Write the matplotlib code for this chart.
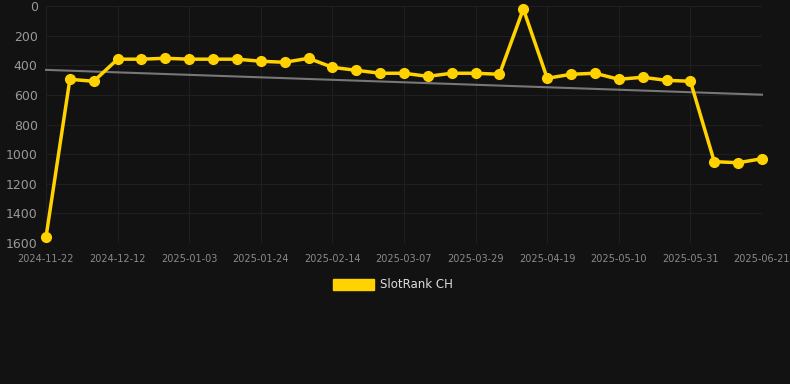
import numpy as np
import matplotlib
matplotlib.use("Agg")
import matplotlib.pyplot as plt
from matplotlib.patches import Patch

dates = ["2024-11-22", "2024-11-29", "2024-12-05", "2024-12-12", "2024-12-19", "2024-12-26",
         "2025-01-03", "2025-01-10", "2025-01-17", "2025-01-24", "2025-01-31", "2025-02-07",
         "2025-02-14", "2025-02-21", "2025-02-28", "2025-03-07", "2025-03-14", "2025-03-21",
         "2025-03-29", "2025-04-05", "2025-04-12", "2025-04-19", "2025-04-26", "2025-05-03",
         "2025-05-10", "2025-05-17", "2025-05-24", "2025-05-31", "2025-06-07", "2025-06-14",
         "2025-06-21"]
rank = [1560, 495, 508, 359, 359, 353, 359, 359, 359, 373, 380, 353, 414, 434, 454, 454,
        475, 454, 454, 461, 20, 488, 461, 454, 495, 481, 502, 508, 1051, 1058, 1031]
series_name = "SlotRank CH"
yticks = [0, 200, 400, 600, 800, 1000, 1200, 1400, 1600]

bg = "#121212"
gold = "#FFD200"

fig = plt.figure(figsize=(7.9, 3.84), dpi=100, facecolor=bg)
ax = fig.add_axes([46/790, 1-243/384, (762-46)/790, (243-6)/384], facecolor=bg)

x = np.arange(len(rank))
coef = np.polyfit(x, rank, 1)
ax.plot(x, np.polyval(coef, x), color="#777777", lw=1.5, zorder=2, clip_on=False)
ax.plot(x, rank, color=gold, lw=2.5, marker="o", ms=7, zorder=3, clip_on=False)

ax.set_xlim(0, len(rank)-1)
ax.set_ylim(1600, 0)
ax.set_yticks(yticks)
ax.set_yticklabels([str(v) for v in yticks])
ax.set_xticks(x[::3])
ax.set_xticklabels(dates[::3])
ax.grid(True, color="#1f1f1f", lw=0.8)
for s in ax.spines.values():
    s.set_visible(False)
ax.tick_params(axis="y", length=0, labelsize=9, labelcolor="#999999", pad=6)
ax.tick_params(axis="x", length=0, labelsize=7, labelcolor="#8a8a8a", pad=8)

leg = fig.legend(handles=[Patch(facecolor=gold, edgecolor=gold, label=series_name)],
                 loc="center", bbox_to_anchor=(0.497, 1-285/384), frameon=False,
                 fontsize=8.5, handlelength=3.5, handleheight=1.0, handletextpad=0.45)
for t in leg.get_texts():
    t.set_color("#dddddd")

fig.savefig("out.png", dpi=100, facecolor=bg)
